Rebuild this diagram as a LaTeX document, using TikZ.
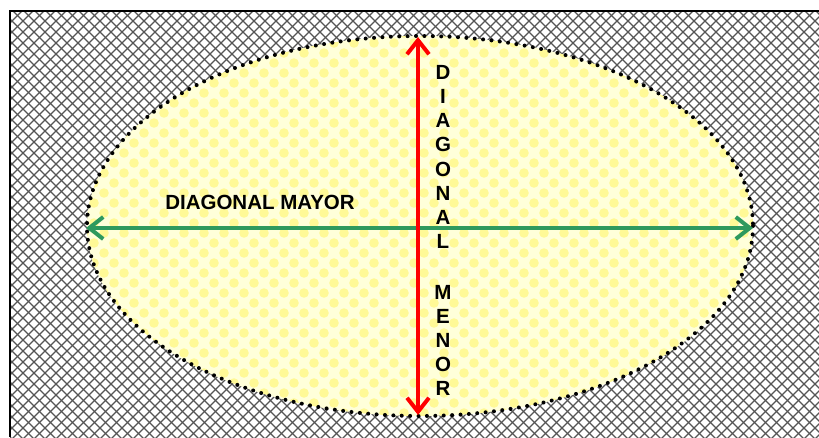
\documentclass[tikz,border=0pt]{standalone}
\usepackage{fontspec}
\setmainfont{Liberation Sans}
\usetikzlibrary{arrows.meta}
\definecolor{hatchgray}{RGB}{85,85,85}
\definecolor{paleyel}{RGB}{255,255,218}
\definecolor{bubyel}{RGB}{255,249,150}
\definecolor{arrred}{RGB}{255,0,0}
\definecolor{arrgreen}{RGB}{46,153,94}
\tikzset{
  hatch/.style={draw=hatchgray, line width=1.2pt},
  bubble/.style={fill=bubyel},
  rim/.style={draw=black, line width=4pt, line cap=round, dash pattern=on 0pt off 8.4pt},
  axis/.style={line width=4pt, {Straight Barb[length=14pt,width=22pt,line width=4pt]}-{Straight Barb[length=14pt,width=22pt,line width=4pt]}},
  lbl/.style={font=\fontsize{20.5}{24.2}\selectfont\bfseries, inner sep=0pt, align=center}
}
\begin{document}
\begin{tikzpicture}[x=1pt,y=-1pt]
  \useasboundingbox (0,0) rectangle (819,437);
  % hatched background
  \fill[white] (10,11) rectangle (819,437);
  \begin{scope}
    \clip (10,11) rectangle (819,437);
    \foreach \i in {-460,-449,...,830} {
      \draw[hatch] (\i,0) -- ++(460,460);
      \draw[hatch] (\i,460) -- ++(460,-460);
    }
  \end{scope}
  \draw[black, line width=2pt] (10,437) -- (10,11) -- (819,11);
  % ellipse with bubble fill
  \coordinate (c) at (420,226);
  \fill[paleyel] (c) ellipse [x radius=333, y radius=190];
  \begin{scope}
    \clip (c) ellipse [x radius=333, y radius=190];
    \foreach \j in {0,...,39} {
      \foreach \i in {0,...,34} {
        \fill[bubble] ({84+20*\i+10*mod(\j,2)},{33+10*\j}) circle (4.8);
      }
    }
  \end{scope}
  \draw[rim] (c) ellipse [x radius=333, y radius=190];
  % axes
  \coordinate (top) at (418,37);
  \coordinate (bot) at (418,415);
  \coordinate (lft) at (86,228);
  \coordinate (rgt) at (753,228);
  \draw[axis, arrgreen] (lft) -- (rgt);
  \draw[axis, arrred] (top) -- (bot);
  % labels
  \node[lbl] (mayor) at (260,202) {DIAGONAL MAYOR};
  \node[lbl] (diag) at (443,157) {D\\I\\A\\G\\O\\N\\A\\L};
  \node[lbl] (menor) at (443,340.5) {M\\E\\N\\O\\R};
\end{tikzpicture}
\end{document}
